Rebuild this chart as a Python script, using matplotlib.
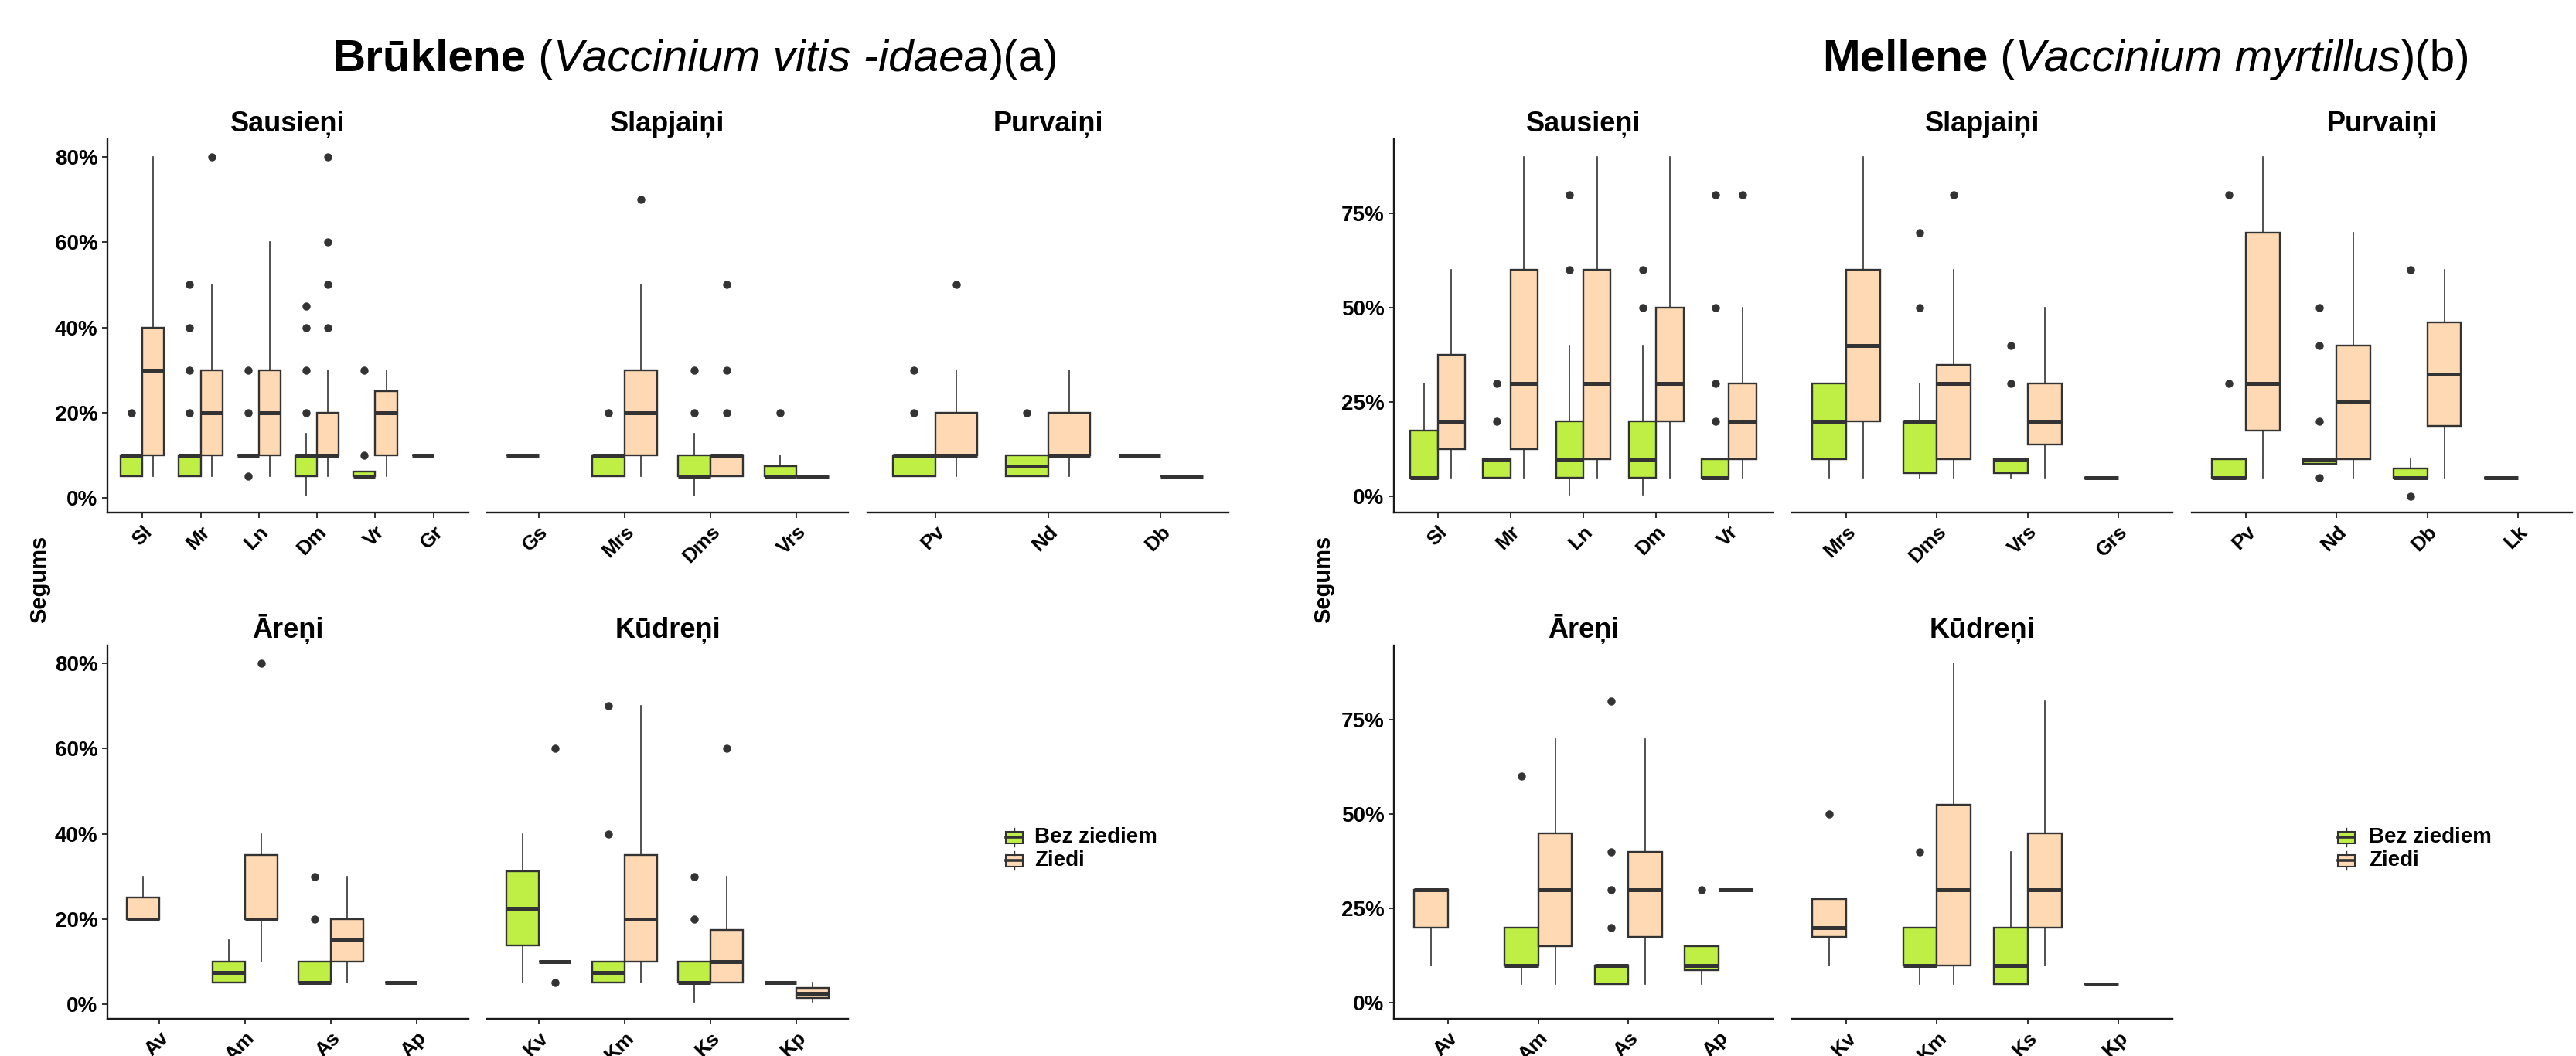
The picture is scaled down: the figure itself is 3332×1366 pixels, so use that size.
import matplotlib
matplotlib.use("Agg")
import matplotlib.pyplot as plt
from matplotlib.patches import Rectangle
from matplotlib.lines import Line2D

plt.rcParams['font.family'] = ['Liberation Sans', 'DejaVu Sans']

# ---------------- DATA (lo, q1, median, q3, hi) in % ----------------
# (a) Brūklene
A_SAUS_CATS = ["Sl", "Mr", "Ln", "Dm", "Vr", "Gr"]
A_SAUS_BEZ = [(5, 5, 10, 10, 10), (5, 5, 10, 10, 10), (10, 10, 10, 10, 10),
              (0.5, 5, 10, 10, 15), (5, 5, 5, 6.25, 6.25), (10, 10, 10, 10, 10)]
A_SAUS_BEZ_OUT = [[20], [20, 30, 40, 50], [5, 20, 30], [20, 30, 40, 45], [10, 30], []]
A_SAUS_ZIE = [(5, 10, 30, 40, 80), (5, 10, 20, 30, 50), (5, 10, 20, 30, 60),
              (5, 10, 10, 20, 30), (5, 10, 20, 25, 30), None]
A_SAUS_ZIE_OUT = [[], [80], [], [40, 50, 60, 80], [], []]

A_SLAP_CATS = ["Gs", "Mrs", "Dms", "Vrs"]
A_SLAP_BEZ = [(10, 10, 10, 10, 10), (5, 5, 10, 10, 10), (0.5, 5, 5, 10, 15), (5, 5, 5, 7.5, 10)]
A_SLAP_BEZ_OUT = [[], [20], [20, 30], [20]]
A_SLAP_ZIE = [None, (5, 10, 20, 30, 50), (5, 5, 10, 10, 10), (5, 5, 5, 5, 5)]
A_SLAP_ZIE_OUT = [[], [70], [20, 30, 50], []]

A_PURV_CATS = ["Pv", "Nd", "Db"]
A_PURV_BEZ = [(5, 5, 10, 10, 10), (5, 5, 7.5, 10, 10), (10, 10, 10, 10, 10)]
A_PURV_BEZ_OUT = [[20, 30], [20], []]
A_PURV_ZIE = [(5, 10, 10, 20, 30), (5, 10, 10, 20, 30), (5, 5, 5, 5, 5)]
A_PURV_ZIE_OUT = [[50], [], []]

A_AREN_CATS = ["Av", "Am", "As", "Ap"]
A_AREN_BEZ = [None, (5, 5, 7.5, 10, 15), (5, 5, 5, 10, 10), (5, 5, 5, 5, 5)]
A_AREN_BEZ_OUT = [[], [], [20, 30], []]
A_AREN_ZIE = [(20, 20, 20, 25, 30), (10, 20, 20, 35, 40), (5, 10, 15, 20, 30), None]
A_AREN_ZIE_OUT = [[], [80], [], []]

A_KUDR_CATS = ["Kv", "Km", "Ks", "Kp"]
A_KUDR_BEZ = [(5, 13.75, 22.5, 31.25, 40), (5, 5, 7.5, 10, 10), (0.5, 5, 5, 10, 10), (5, 5, 5, 5, 5)]
A_KUDR_BEZ_OUT = [[], [40, 70], [20, 30], []]
A_KUDR_ZIE = [(10, 10, 10, 10, 10), (5, 10, 20, 35, 70), (5, 5, 10, 17.5, 30), (0.5, 1.5, 2.5, 3.75, 5)]
A_KUDR_ZIE_OUT = [[5, 60], [], [60], []]

# (b) Mellene
B_SAUS_CATS = ["Sl", "Mr", "Ln", "Dm", "Vr"]
B_SAUS_BEZ = [(5, 5, 5, 17.5, 30), (5, 5, 10, 10, 10), (0.5, 5, 10, 20, 40),
              (0.5, 5, 10, 20, 40), (5, 5, 5, 10, 10)]
B_SAUS_BEZ_OUT = [[], [20, 30], [60, 80], [50, 60], [20, 30, 50, 80]]
B_SAUS_ZIE = [(5, 12.5, 20, 37.5, 60), (5, 12.5, 30, 60, 90), (5, 10, 30, 60, 90),
              (5, 20, 30, 50, 90), (5, 10, 20, 30, 50)]
B_SAUS_ZIE_OUT = [[], [], [], [], [80]]

B_SLAP_CATS = ["Mrs", "Dms", "Vrs", "Grs"]
B_SLAP_BEZ = [(5, 10, 20, 30, 30), (5, 6.25, 20, 20, 30), (5, 6.25, 10, 10, 10), (5, 5, 5, 5, 5)]
B_SLAP_BEZ_OUT = [[], [50, 70], [30, 40], []]
B_SLAP_ZIE = [(5, 20, 40, 60, 90), (5, 10, 30, 35, 60), (5, 13.75, 20, 30, 50), None]
B_SLAP_ZIE_OUT = [[], [80], [], []]

B_PURV_CATS = ["Pv", "Nd", "Db", "Lk"]
B_PURV_BEZ = [(5, 5, 5, 10, 10), (8.75, 8.75, 10, 10, 10), (5, 5, 5, 7.5, 10), (5, 5, 5, 5, 5)]
B_PURV_BEZ_OUT = [[30, 80], [5, 20, 40, 50], [0, 60], []]
B_PURV_ZIE = [(5, 17.5, 30, 70, 90), (5, 10, 25, 40, 70), (5, 18.75, 32.5, 46.25, 60), None]
B_PURV_ZIE_OUT = [[], [], [], []]

B_AREN_CATS = ["Av", "Am", "As", "Ap"]
B_AREN_BEZ = [None, (5, 10, 10, 20, 20), (5, 5, 10, 10, 10), (5, 8.75, 10, 15, 15)]
B_AREN_BEZ_OUT = [[], [60], [20, 30, 40, 80], [30]]
B_AREN_ZIE = [(10, 20, 30, 30, 30), (5, 15, 30, 45, 70), (5, 17.5, 30, 40, 70), (30, 30, 30, 30, 30)]
B_AREN_ZIE_OUT = [[], [], [], []]

B_KUDR_CATS = ["Kv", "Km", "Ks", "Kp"]
B_KUDR_BEZ = [None, (5, 10, 10, 20, 20), (5, 5, 10, 20, 40), (5, 5, 5, 5, 5)]
B_KUDR_BEZ_OUT = [[], [40], [], []]
B_KUDR_ZIE = [(10, 17.5, 20, 27.5, 27.5), (5, 10, 30, 52.5, 90), (10, 20, 30, 45, 80), None]
B_KUDR_ZIE_OUT = [[50], [], [], []]

A_YTICKS = [0, 20, 40, 60, 80]
B_YTICKS = [0, 25, 50, 75]
LEGEND_LABELS = ["Bez ziediem", "Ziedi"]

# ---------------- STYLE ----------------
W, H = 3332, 1366
DPI = 100
GREEN = "#BFEF45"
PEACH = "#FFD9B3"
EDGE = "#333333"
AXC = "#1a1a1a"

fig = plt.figure(figsize=(W / DPI, H / DPI), dpi=DPI)
fig.patch.set_facecolor("white")


def add_ax(x0, x1, y0, y1):
    return fig.add_axes([x0 / W, 1 - y1 / H, (x1 - x0) / W, (y1 - y0) / H])


def to_stats(t, out):
    lo, q1, med, q3, hi = t
    return dict(whislo=lo, q1=q1, med=med, q3=q3, whishi=hi, fliers=out)


def draw_facet(ax, title, cats, bez, bez_out, zie, zie_out, ylim, yticks, show_y):
    n = len(cats)
    offs = [-0.1875, 0.1875]
    for i in range(n):
        present = []
        if bez[i] is not None:
            present.append((bez[i], bez_out[i], GREEN))
        if zie[i] is not None:
            present.append((zie[i], zie_out[i], PEACH))
        for j, (t, out, col) in enumerate(present):
            ax.bxp([to_stats(t, out)], positions=[i + offs[j]], widths=0.375,
                   patch_artist=True, showcaps=False, manage_ticks=False,
                   boxprops=dict(facecolor=col, edgecolor=EDGE, linewidth=1.7),
                   medianprops=dict(color=EDGE, linewidth=3.6, solid_capstyle='butt'),
                   whiskerprops=dict(color=EDGE, linewidth=1.2),
                   flierprops=dict(marker='o', markerfacecolor=EDGE,
                                   markeredgecolor=EDGE, markersize=6.5))
    ax.set_xlim(-0.6, n - 0.4)
    ax.set_ylim(*ylim)
    ax.set_xticks(range(n))
    ax.set_xticklabels(cats, rotation=45, ha='right', va='top',
                       rotation_mode='anchor', fontsize=19, fontweight='bold')
    ax.tick_params(axis='x', length=5, width=1.4, color=EDGE, pad=4)
    for s in ['top', 'right']:
        ax.spines[s].set_visible(False)
    ax.spines['bottom'].set_linewidth(1.7)
    ax.spines['bottom'].set_color(AXC)
    if show_y:
        ax.set_yticks(yticks)
        ax.set_yticklabels([f"{v}%" for v in yticks], fontsize=20, fontweight='bold')
        ax.tick_params(axis='y', length=5, width=1.4, color=EDGE, pad=4)
        ax.spines['left'].set_linewidth(1.7)
        ax.spines['left'].set_color(AXC)
    else:
        ax.spines['left'].set_visible(False)
        ax.tick_params(axis='y', left=False, labelleft=False)
    ax.set_title(title, fontsize=26, fontweight='bold', pad=7)


def draw_legend(xc, text_x, ycs):
    for yc, col, lab in zip(ycs, [GREEN, PEACH], LEGEND_LABELS):
        lax = add_ax(xc - 15, xc + 15, yc - 15, yc + 15)
        lax.set_xlim(0, 1)
        lax.set_ylim(0, 1)
        lax.axis('off')
        lax.add_line(Line2D([0.5, 0.5], [0.1, 0.25], color=EDGE, lw=1.0))
        lax.add_line(Line2D([0.5, 0.5], [0.75, 0.9], color=EDGE, lw=1.0))
        lax.add_patch(Rectangle((0.125, 0.25), 0.75, 0.5, facecolor=col, edgecolor=EDGE, lw=1.5))
        lax.add_line(Line2D([0.125, 0.875], [0.5, 0.5], color=EDGE, lw=2.6))
        fig.text(text_x / W, 1 - yc / H, lab, fontsize=20, fontweight='bold', va='center', ha='left')


def rich_title(xc, yb, parts, size):
    r = fig.canvas.get_renderer()
    texts, widths = [], []
    for s, w, st in parts:
        t = fig.text(0, 1 - yb / H, s, fontsize=size, fontweight=w, fontstyle=st,
                     va='baseline', ha='left')
        bb = t.get_window_extent(renderer=r)
        texts.append(t)
        widths.append(bb.width)
    x = xc - sum(widths) / 2
    for t, wd in zip(texts, widths):
        t.set_x(x / W)
        x += wd


TOP = (180, 663)
BOT = (835, 1318)
A_YLIM = (-3.45, 84.2)
B_YLIM = (-4.2, 94.7)

# (a) panels
ax = add_ax(139, 606, *TOP)
draw_facet(ax, "Sausieņi", A_SAUS_CATS, A_SAUS_BEZ, A_SAUS_BEZ_OUT, A_SAUS_ZIE, A_SAUS_ZIE_OUT, A_YLIM, A_YTICKS, True)
ax = add_ax(630, 1097, *TOP)
draw_facet(ax, "Slapjaiņi", A_SLAP_CATS, A_SLAP_BEZ, A_SLAP_BEZ_OUT, A_SLAP_ZIE, A_SLAP_ZIE_OUT, A_YLIM, A_YTICKS, False)
ax = add_ax(1122, 1589, *TOP)
draw_facet(ax, "Purvaiņi", A_PURV_CATS, A_PURV_BEZ, A_PURV_BEZ_OUT, A_PURV_ZIE, A_PURV_ZIE_OUT, A_YLIM, A_YTICKS, False)
ax = add_ax(139, 606, *BOT)
draw_facet(ax, "Āreņi", A_AREN_CATS, A_AREN_BEZ, A_AREN_BEZ_OUT, A_AREN_ZIE, A_AREN_ZIE_OUT, A_YLIM, A_YTICKS, True)
ax = add_ax(630, 1097, *BOT)
draw_facet(ax, "Kūdreņi", A_KUDR_CATS, A_KUDR_BEZ, A_KUDR_BEZ_OUT, A_KUDR_ZIE, A_KUDR_ZIE_OUT, A_YLIM, A_YTICKS, False)

# (b) panels
ax = add_ax(1803, 2293, *TOP)
draw_facet(ax, "Sausieņi", B_SAUS_CATS, B_SAUS_BEZ, B_SAUS_BEZ_OUT, B_SAUS_ZIE, B_SAUS_ZIE_OUT, B_YLIM, B_YTICKS, True)
ax = add_ax(2318, 2810, *TOP)
draw_facet(ax, "Slapjaiņi", B_SLAP_CATS, B_SLAP_BEZ, B_SLAP_BEZ_OUT, B_SLAP_ZIE, B_SLAP_ZIE_OUT, B_YLIM, B_YTICKS, False)
ax = add_ax(2835, 3327, *TOP)
draw_facet(ax, "Purvaiņi", B_PURV_CATS, B_PURV_BEZ, B_PURV_BEZ_OUT, B_PURV_ZIE, B_PURV_ZIE_OUT, B_YLIM, B_YTICKS, False)
ax = add_ax(1803, 2293, *BOT)
draw_facet(ax, "Āreņi", B_AREN_CATS, B_AREN_BEZ, B_AREN_BEZ_OUT, B_AREN_ZIE, B_AREN_ZIE_OUT, B_YLIM, B_YTICKS, True)
ax = add_ax(2318, 2810, *BOT)
draw_facet(ax, "Kūdreņi", B_KUDR_CATS, B_KUDR_BEZ, B_KUDR_BEZ_OUT, B_KUDR_ZIE, B_KUDR_ZIE_OUT, B_YLIM, B_YTICKS, False)

# y labels
fig.text(51 / W, 1 - 749 / H, "Segums", rotation=90, fontsize=21, fontweight='bold', ha='center', va='center')
fig.text(1712 / W, 1 - 749 / H, "Segums", rotation=90, fontsize=21, fontweight='bold', ha='center', va='center')

# legends
draw_legend(1312, 1338, [1083, 1113])
draw_legend(3035, 3064, [1083, 1113])

# titles
rich_title(900, 92, [("Brūklene", 'bold', 'normal'), (" (", 'normal', 'normal'),
                     ("Vaccinium vitis -idaea", 'normal', 'italic'), (")(a)", 'normal', 'normal')], 42)
rich_title(2776, 92, [("Mellene", 'bold', 'normal'), (" (", 'normal', 'normal'),
                      ("Vaccinium myrtillus", 'normal', 'italic'), (")(b)", 'normal', 'normal')], 42)

fig.savefig("out.png", dpi=DPI, facecolor="white")
